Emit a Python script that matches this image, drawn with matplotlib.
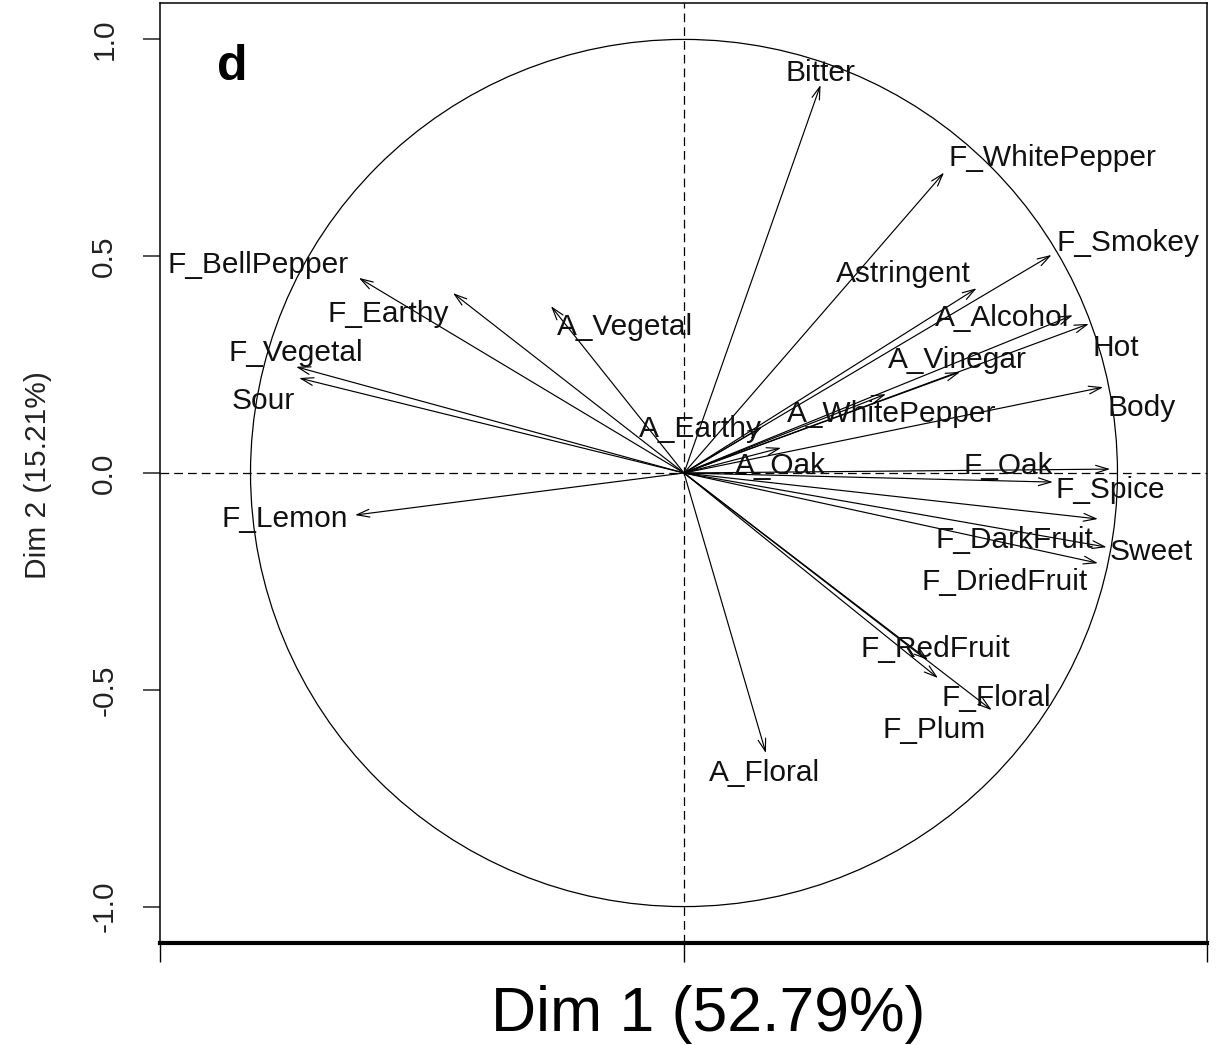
import matplotlib
matplotlib.use("Agg")
import matplotlib.pyplot as plt
from matplotlib.patches import Circle

plt.rcParams['font.family'] = ['Liberation Sans', 'DejaVu Sans']

# ---- data: variable coordinates on Dim 1 / Dim 2 ----
variables = ["Bitter", "F_WhitePepper", "F_Smokey", "Astringent", "A_Alcohol",
             "Hot", "A_Vinegar", "A_WhitePepper", "Body", "A_Earthy", "A_Oak",
             "F_Oak", "F_Spice", "F_DarkFruit", "Sweet", "F_DriedFruit",
             "F_RedFruit", "F_Plum", "F_Floral", "A_Floral", "F_Lemon", "Sour",
             "F_Vegetal", "F_BellPepper", "F_Earthy", "A_Vegetal"]
dim1 = [0.315, 0.600, 0.848, 0.675, 0.897,
        0.934, 0.637, 0.466, 0.967, 0.180, 0.224,
        0.851, 0.983, 0.955, 0.975, 0.955,
        0.563, 0.586, 0.710, 0.189, -0.759, -0.888,
        -0.895, -0.750, -0.533, -0.307]
dim2 = [0.895, 0.693, 0.503, 0.426, 0.364,
        0.344, 0.233, 0.182, 0.198, 0.106, 0.058,
        -0.021, 0.009, -0.106, -0.171, -0.208,
        -0.431, -0.473, -0.547, -0.646, -0.097, 0.219,
        0.245, 0.450, 0.415, 0.385]
yticks = [-1.0, -0.5, 0.0, 0.5, 1.0]
ytick_labels = ["-1.0", "-0.5", "0.0", "0.5", "1.0"]
xlabel = "Dim 1 (52.79%)"
ylabel = "Dim 2 (15.21%)"
panel = "d"

# ---- layout: label offsets from arrow tips (pixels, +y up) ----
label_dx = [0, 108, 76, -73, -71, 27, -3, 6, 38, -62, -1, -45, 0, -84, 45, -93,
            7, -4, 5, -1, -70, -36, 0, -101, -65, 74]
label_dy = [15, 17, 15, 17, 0, -21, 15, -17, -18, 1, -15, 19, -18, -18, -2, -16,
            14, -49, 15, -17, -1, -20, 16, 16, -18, -18]

W, H = 1223, 1045
fig = plt.figure(figsize=(W / 100, H / 100), dpi=100)
ax = fig.add_axes([160 / W, 1 - 943 / H, 1047 / W, 940 / H])
ax.set_xlim(-1.2088, 1.2065)
ax.set_ylim(-1.084, 1.084)

# unit circle and reference lines
ax.add_patch(Circle((0, 0), 1.0, fill=False, lw=0.9, color="black", zorder=1))
ax.axhline(0, ls=(0, (7, 4)), lw=0.9, color="black", zorder=1)
ax.axvline(0, ls=(0, (7, 4)), lw=0.9, color="black", zorder=1)

FS = 21.5
cap_half = 0.716 * FS / 2
for name, x, y, dx, dy in zip(variables, dim1, dim2, label_dx, label_dy):
    ax.annotate("", xy=(x, y), xytext=(0, 0),
                arrowprops=dict(arrowstyle="->,head_length=0.9,head_width=0.28",
                                lw=0.85, color="black", shrinkA=0, shrinkB=0),
                zorder=2)
    ax.annotate(name, xy=(x, y), xytext=(dx * 0.72, dy * 0.72 - cap_half),
                textcoords="offset points", ha="center", va="baseline",
                fontsize=FS, color="#111111", zorder=3)

# axes styling
for s in ["left", "top", "right"]:
    ax.spines[s].set_linewidth(1.1)
ax.spines["bottom"].set_linewidth(3.0)
ax.set_yticks(yticks)
ax.set_yticklabels(ytick_labels)
ax.tick_params(axis="y", direction="out", length=12, width=1.1, pad=18,
               labelsize=FS, labelrotation=90, colors="#222222")
ax.set_xticks([-1.2088, 0.0, 1.2065])
ax.set_xticklabels([])
ax.tick_params(axis="x", direction="out", length=13.5, width=1.0)
for lab in ax.get_yticklabels():
    lab.set_va("center")

ax.text((38 - 160) / 1047, 0.498, ylabel, transform=ax.transAxes,
        rotation=90, ha="center", va="center", fontsize=FS, color="#222222")
ax.text((232 - 160) / 1047, 1 - (80 - 3) / 940, panel, transform=ax.transAxes,
        ha="center", va="baseline", fontsize=36, fontweight="bold")
fig.text(708 / W, 1 - 1031 / H, xlabel, ha="center", va="baseline", fontsize=45)

fig.savefig("out.png", dpi=100)
